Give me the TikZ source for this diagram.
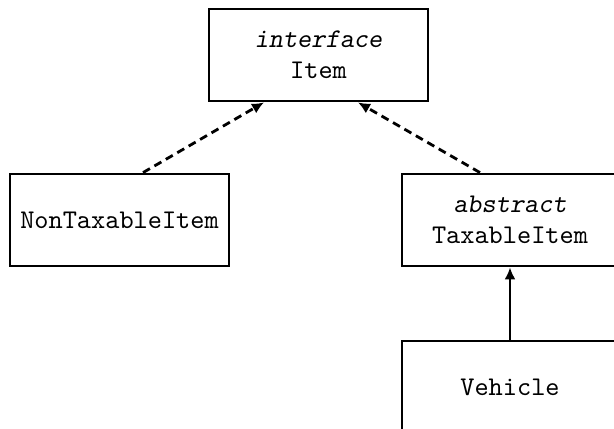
\documentclass[tikz,border=0pt]{standalone}
\usepackage{fontspec}
\setmonofont{lmmono10-regular.otf}[ItalicFont=lmmonoslant10-regular.otf]
\usetikzlibrary{arrows.meta}
\tikzstyle{classbox}=[draw, line width=1.4pt, minimum width=109.5pt, minimum height=46pt, align=center, font=\ttfamily\fontsize{13.5}{15.5}\selectfont]
\tikzstyle{realizes}=[line width=1.4pt, dash pattern=on 4pt off 2.6pt, -{Latex[length=6pt, width=5.5pt]}]
\tikzstyle{extends}=[line width=1.4pt, -{Latex[length=6pt, width=5.5pt]}]

\begin{document}
\begin{tikzpicture}[x=0.5pt, y=-0.5pt]
      \useasboundingbox (0, 0) rectangle (614, 428);
      \clip (0, 0) rectangle (614, 428);

      \node[classbox] (item) at (318.5, 55) {\textit{interface}\\Item};
      \node[classbox] (nontaxable) at (119.5, 220) {NonTaxableItem};
      \node[classbox, minimum width=108pt] (taxable) at (510, 220) {\textit{abstract}\\TaxableItem};
      \node[classbox, minimum width=108pt] (vehicle) at (510, 387) {Vehicle};

      \draw[realizes] ([xshift=11.75pt]nontaxable.north) to ([xshift=-27.25pt]item.south);
      \draw[realizes] ([xshift=-15pt]taxable.north) to ([xshift=19.75pt]item.south);
      \draw[extends] (vehicle.north) to (taxable.south);
    \end{tikzpicture}
\end{document}
